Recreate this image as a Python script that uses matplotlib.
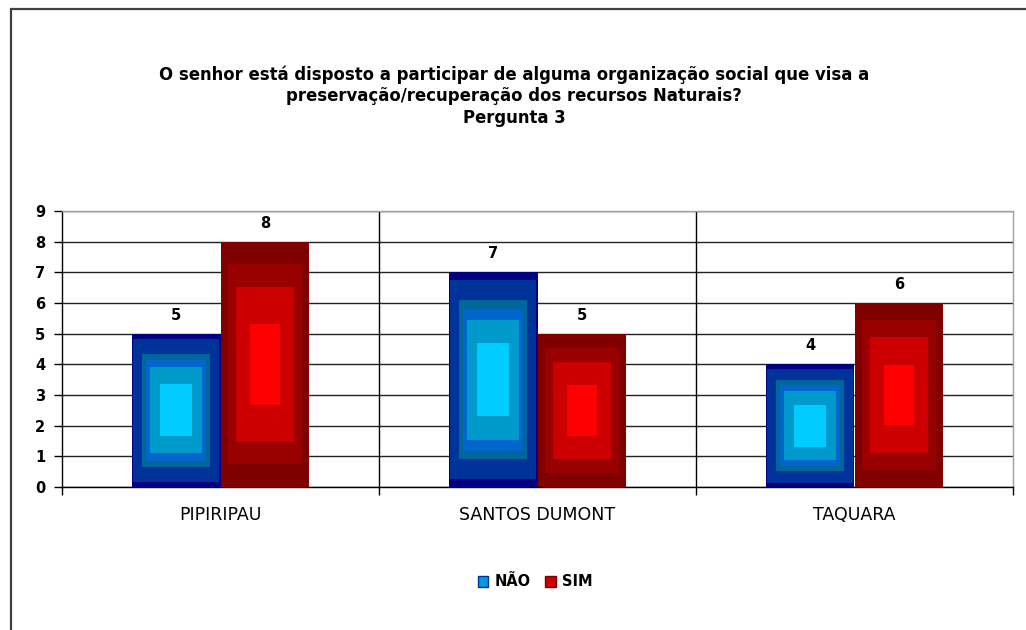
import numpy as np
import matplotlib.pyplot as plt
import matplotlib.patches as mpatches
from matplotlib.patches import Patch

# data
categories = ['PIPIRIPAU', 'SANTOS DUMONT', 'TAQUARA']
nao = [5, 7, 4]
sim = [8, 5, 6]
title_lines = ['O senhor está disposto a participar de alguma organização social que visa a',
               'preservação/recuperação dos recursos Naturais?',
               'Pergunta 3']

# nested rectangles that imitate the old "from centre" gradient fill
# (width fraction, height fraction, colour)
blue_layers = [(1.0, 1.0, '#000080'), (0.97, 0.93, '#003399'), (0.77, 0.74, '#006699'),
               (0.67, 0.66, '#0066CC'), (0.58, 0.56, '#0099CC'), (0.36, 0.34, '#00CCFF')]
red_layers = [(1.0, 1.0, '#800000'), (0.83, 0.815, '#990000'),
              (0.65, 0.63, '#CC0000'), (0.34, 0.33, '#FF0000')]

W, H = 1026, 630
fig = plt.figure(figsize=(W / 100, H / 100), dpi=100)
ax = fig.add_axes([62 / W, 1 - 487 / H, (1013 - 62) / W, (487 - 211) / H])

x = np.arange(len(categories))
w = 0.28


def gradient_bars(ax, centers, values, layers):
    values = np.asarray(values, dtype=float)
    for fw, fh, col in layers:
        ax.bar(centers, values * fh, width=w * fw, bottom=values * (1 - fh) / 2,
               color=col, linewidth=0, zorder=3)


gradient_bars(ax, x - w / 2, nao, blue_layers)
gradient_bars(ax, x + w / 2, sim, red_layers)

# value labels above the bars
for xs, vals in [(x - w / 2, nao), (x + w / 2, sim)]:
    for xi, v in zip(xs, vals):
        ax.annotate(str(v), (xi, v), xytext=(0, 8), textcoords='offset points',
                    ha='center', va='bottom', fontsize=10.5, fontweight='bold')

ax.set_xlim(-0.5, len(categories) - 0.5)
ax.set_ylim(0, 9)
ax.set_yticks(range(0, 10))
ax.yaxis.grid(True, color='#222222', linewidth=1.0, zorder=0)
ax.set_axisbelow(True)

# category separators and labels
ax.set_xticks(np.arange(-0.5, len(categories), 1.0))
ax.set_xticklabels([])
ax.set_xticks(x, minor=True)
ax.set_xticklabels(categories, minor=True, fontsize=12.5)
ax.tick_params(axis='x', which='minor', length=0, pad=14)
ax.tick_params(axis='x', which='major', length=6, width=1, color='black')
ax.tick_params(axis='y', length=6, width=1, pad=6, labelsize=10.5)
for lab in ax.get_yticklabels():
    lab.set_fontweight('bold')
for sep in np.arange(0.5, len(categories) - 0.5, 1.0):
    ax.axvline(sep, color='black', linewidth=1.0, zorder=1)

ax.spines['left'].set_color('black')
ax.spines['bottom'].set_color('black')
ax.spines['top'].set_color('#a0a0a0')
ax.spines['right'].set_color('#a0a0a0')
for s in ax.spines.values():
    s.set_linewidth(1.0)

# title, three centred lines
for yy, line in zip([75, 96, 118], title_lines):
    fig.text(514 / W, 1 - yy / H, line, ha='center', va='center',
             fontsize=11.9, fontweight='bold')

# legend
handles = [Patch(facecolor='#0099DD', edgecolor='#003399', label='NÃO'),
           Patch(facecolor='#CC0000', edgecolor='#800000', label='SIM')]
leg = fig.legend(handles=handles, loc='center', bbox_to_anchor=(535 / W, 1 - 582 / H),
                 ncol=2, frameon=False, handlelength=0.75, handleheight=0.75,
                 handletextpad=0.4, columnspacing=1.0, prop={'weight': 'bold', 'size': 10.5})

# outer chart frame (right and bottom fall outside the picture)
frame = mpatches.Rectangle((11 / W, -0.1), 1.2, 1.1 - 9 / H, transform=fig.transFigure,
                           fill=False, edgecolor='#404040', linewidth=1.6)
fig.patches.append(frame)

fig.savefig('out.png', dpi=100)
